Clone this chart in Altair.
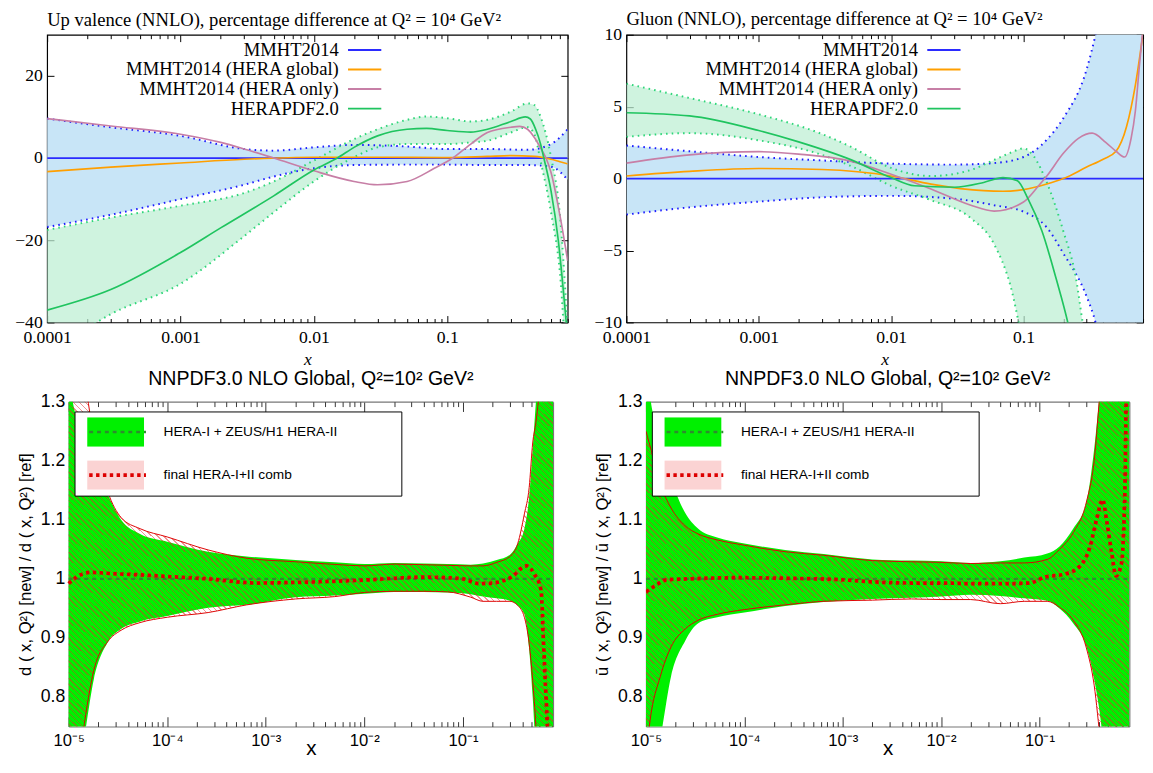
import altair as alt
import pandas as pd

# ======================= DATA =======================
# ---- Top-left: Up valence (NNLO), percentage difference at Q^2=10^4 GeV^2 ----
uv_mmht_x = [1e-4, 3e-4, 1e-3, 3e-3, 5e-3, 0.01, 0.02, 0.05, 0.1, 0.2, 0.4, 0.6, 0.8]
uv_mmht_up = [9.6, 7.5, 5.4, 2.2, 1.8, 2.6, 3.2, 2.8, 2.2, 2.2, 2.0, 3.4, 7.0]
uv_mmht_lo = [-16.8, -13.8, -10.0, -6.5, -4.5, -2.5, -1.7, -1.6, -1.6, -1.7, -1.7, -2.1, -5.3]
uv_hb_x = [1e-4, 3e-4, 1e-3, 3e-3, 5e-3, 0.01, 0.02, 0.03, 0.05, 0.07, 0.1, 0.15, 0.2, 0.3, 0.4, 0.45, 0.5, 0.6, 0.7, 0.78, 0.8]
uv_hb_up = [-17.5, -14.5, -11.6, -8.5, -5.7, -0.6, 4.6, 7.0, 9.3, 10.1, 9.7, 8.9, 9.3, 11.3, 13.3, 12.9, 10.1, 0.2, -14.0, -36.0, -42.0]
uv_hb_lo = [-48.0, -38.0, -30.6, -19.0, -13.2, -5.7, 0.2, 2.6, 3.4, 3.4, 3.4, 3.8, 4.2, 6.2, 7.5, 5.8, -0.6, -13.2, -28.0, -48.0, -50.0]
uv_mmht_cx = [1e-4, 0.8]
uv_mmht_cy = [0.0, 0.0]
uv_glob_x = [1e-4, 3e-4, 1e-3, 3e-3, 0.01, 0.03, 0.1, 0.2, 0.3, 0.45, 0.6, 0.7, 0.8]
uv_glob_y = [-3.3, -2.2, -1.2, -0.3, 0.2, 0.2, 0.1, 0.4, 0.6, 0.4, -0.3, -0.9, -1.4]
uv_only_x = [1e-4, 3e-4, 1e-3, 2e-3, 3e-3, 5e-3, 0.01, 0.02, 0.03, 0.05, 0.08, 0.11, 0.15, 0.2, 0.3, 0.35, 0.4, 0.45, 0.5, 0.55, 0.6, 0.7, 0.8]
uv_only_y = [9.6, 7.8, 5.8, 3.8, 2.2, 0.0, -3.1, -5.7, -6.5, -5.7, -2.5, 0.0, 3.4, 6.2, 7.5, 7.7, 7.0, 5.0, 2.5, 0.0, -3.5, -14.0, -25.0]
uv_hera_x = [1e-4, 3e-4, 1e-3, 2e-3, 5e-3, 0.01, 0.015, 0.02, 0.03, 0.05, 0.07, 0.1, 0.15, 0.2, 0.3, 0.385, 0.42, 0.46, 0.5, 0.53, 0.6, 0.68, 0.78, 0.8]
uv_hera_y = [-37.0, -32.0, -23.0, -17.0, -9.2, -2.9, 0.0, 2.6, 5.4, 7.0, 7.2, 6.7, 6.3, 7.0, 8.9, 10.0, 9.5, 7.0, 3.5, 0.0, -8.0, -20.0, -40.0, -44.0]

# ---- Top-right: Gluon (NNLO), percentage difference ----
gl_mmht_x = [1e-4, 3e-4, 1e-3, 3e-3, 0.01, 0.03, 0.06, 0.1, 0.15, 0.2, 0.3, 0.35, 0.4, 0.5, 0.65, 0.8]
gl_mmht_up = [2.3, 1.9, 1.5, 1.26, 1.04, 0.97, 1.08, 1.5, 2.7, 4.2, 7.6, 10.0, 12.5, 18.0, 25.0, 30.0]
gl_mmht_lo = [-2.5, -2.0, -1.6, -1.3, -1.2, -1.4, -1.85, -2.3, -3.4, -5.2, -8.2, -10.0, -12.5, -18.0, -25.0, -30.0]
gl_hb_x = [1e-4, 3e-4, 1e-3, 3e-3, 5e-3, 0.01, 0.02, 0.04, 0.06, 0.08, 0.1, 0.12, 0.15, 0.2, 0.25, 0.28, 0.3]
gl_hb_up = [6.6, 5.6, 4.47, 3.1, 2.2, 0.74, 0.18, 0.6, 1.3, 1.8, 2.1, 1.53, -0.27, -3.66, -7.0, -10.0, -11.5]
gl_hb_lo = [2.9, 3.16, 2.66, 1.65, 0.86, -0.5, -1.5, -2.75, -4.56, -7.5, -11.5, -14.0, -16.0, -18.0, -20.0, -20.0, -20.0]
gl_mmht_cx = [1e-4, 0.8]
gl_mmht_cy = [0.0, 0.0]
gl_glob_x = [1e-4, 3e-4, 1e-3, 3e-3, 0.01, 0.02, 0.05, 0.07, 0.1, 0.15, 0.2, 0.3, 0.4, 0.5, 0.6, 0.7, 0.8]
gl_glob_y = [0.18, 0.5, 0.7, 0.63, 0.18, -0.38, -0.84, -0.88, -0.77, -0.38, 0.0, 0.8, 1.35, 1.9, 3.6, 6.5, 10.1]
gl_only_x = [1e-4, 3e-4, 1e-3, 2e-3, 5e-3, 0.01, 0.02, 0.04, 0.06, 0.1, 0.13, 0.15, 0.2, 0.26, 0.33, 0.42, 0.5, 0.58, 0.65, 0.7, 0.75, 0.8]
gl_only_y = [1.08, 1.65, 1.87, 1.7, 1.2, 0.3, -0.72, -1.85, -2.26, -1.63, -0.5, 0.18, 1.76, 2.8, 3.16, 2.5, 1.9, 1.5, 2.8, 4.7, 7.8, 10.5]
gl_hera_x = [1e-4, 3e-4, 1e-3, 2e-3, 5e-3, 0.01, 0.015, 0.03, 0.05, 0.07, 0.09, 0.108, 0.138, 0.177, 0.216, 0.24]
gl_hera_y = [4.58, 4.36, 3.34, 2.55, 1.3, 0.07, -0.5, -0.6, -0.27, 0.07, -0.15, -1.4, -3.66, -7.0, -10.0, -12.0]

# ---- Bottom panels: NNPDF3.0 NLO Global, ratio new/ref ----
nn_x = [1e-5, 1.1e-5, 1.4e-5, 1.8e-5, 2.5e-5, 3.4e-5, 5.3e-5, 1e-4, 2.6e-4, 6.4e-4, 2e-3, 5e-3, 0.01, 0.02,
        0.04, 0.07, 0.12, 0.16, 0.22, 0.3, 0.36, 0.42, 0.47, 0.51, 0.55, 0.6, 0.7, 0.82]
# d-quark
d_green_up = [1.36, 1.30, 1.25, 1.19, 1.142, 1.10, 1.076, 1.063, 1.046, 1.038, 1.032, 1.028, 1.025, 1.027,
              1.026, 1.025, 1.024, 1.026, 1.032, 1.041, 1.06, 1.085, 1.14, 1.22, 1.30, 1.38, 1.40, 1.40]
d_green_lo = [0.60, 0.64, 0.72, 0.83, 0.893, 0.915, 0.928, 0.937, 0.951, 0.956, 0.969, 0.972, 0.975, 0.978,
              0.978, 0.977, 0.974, 0.970, 0.967, 0.963, 0.955, 0.94, 0.88, 0.80, 0.70, 0.62, 0.60, 0.60]
d_red_up = [1.40, 1.40, 1.35, 1.24, 1.147, 1.104, 1.085, 1.071, 1.049, 1.035, 1.029, 1.0245, 1.022, 1.025,
            1.024, 1.023, 1.022, 1.022, 1.028, 1.038, 1.06, 1.11, 1.155, 1.23, 1.265, 1.32, 1.40, 1.40]
d_red_lo = [0.60, 0.60, 0.74, 0.845, 0.894, 0.913, 0.926, 0.935, 0.943, 0.956, 0.966, 0.97, 0.977, 0.979,
            0.979, 0.978, 0.969, 0.962, 0.962, 0.962, 0.955, 0.935, 0.89, 0.828, 0.75, 0.62, 0.60, 0.60]
d_cen_x = [1e-5, 1.2e-5, 1.68e-5, 2.7e-5, 5e-5, 1e-4, 2.6e-4, 8e-4, 2e-3, 5e-3, 0.01, 0.02, 0.04, 0.07, 0.1,
           0.146, 0.2, 0.31, 0.44, 0.53, 0.62, 0.66, 0.72, 0.8]
d_cen_y = [0.992, 1.003, 1.011, 1.009, 1.007, 1.004, 1.0, 0.993, 0.994, 0.996, 0.998, 1.001, 1.003, 1.002, 1.0,
           0.992, 0.993, 1.003, 1.022, 1.008, 0.981, 0.883, 0.75, 0.6]
# u-bar
u_green_up = [1.40, 1.31, 1.24, 1.17, 1.112, 1.085, 1.07, 1.06, 1.049, 1.042, 1.033, 1.031, 1.03, 1.027,
              1.03, 1.036, 1.043, 1.055, 1.085, 1.13, 1.22, 1.33, 1.40, 1.40, 1.40, 1.40, 1.40, 1.40]
u_green_lo = [0.60, 0.65, 0.73, 0.835, 0.895, 0.925, 0.935, 0.943, 0.954, 0.961, 0.966, 0.968, 0.97, 0.973,
              0.971, 0.967, 0.963, 0.95, 0.925, 0.885, 0.83, 0.76, 0.68, 0.60, 0.60, 0.60, 0.60, 0.60]
u_red_up = [1.25, 1.225, 1.16, 1.12, 1.09, 1.076, 1.066, 1.057, 1.046, 1.04, 1.031, 1.029, 1.028, 1.026,
            1.027, 1.027, 1.033, 1.05, 1.078, 1.13, 1.20, 1.33, 1.40, 1.40, 1.40, 1.40, 1.40, 1.40]
u_red_lo = [0.70, 0.76, 0.835, 0.885, 0.915, 0.93, 0.94, 0.948, 0.956, 0.962, 0.964, 0.966, 0.965, 0.965,
            0.958, 0.962, 0.962, 0.952, 0.93, 0.883, 0.82, 0.72, 0.65, 0.60, 0.60, 0.60, 0.60, 0.60]
u_cen_x = [1e-5, 1.26e-5, 1.58e-5, 2.7e-5, 8.5e-5, 2.7e-4, 8.4e-4, 2e-3, 5e-3, 0.01, 0.02, 0.05, 0.08, 0.113,
           0.18, 0.26, 0.33, 0.38, 0.44, 0.48, 0.54, 0.6, 0.68, 0.74, 0.76, 0.8]
u_cen_y = [0.978, 0.989, 0.998, 1.0, 1.002, 1.001, 0.999, 0.995, 0.993, 0.993, 0.992, 0.992, 0.993, 1.003,
           1.008, 1.022, 1.057, 1.10, 1.134, 1.10, 1.046, 1.005, 1.025, 1.155, 1.3, 1.45]
ref_x = [1e-5, 0.82]
ref_y = [1.0, 1.0]

TOP_NAMES = ["MMHT2014", "MMHT2014 (HERA global)", "MMHT2014 (HERA only)", "HERAPDF2.0"]
BOT_NAMES = ["HERA-I + ZEUS/H1 HERA-II", "final HERA-I+II comb"]

# ======================= STYLE =======================
SERIF = "Liberation Serif"
SANS = "Liberation Sans"
C_BLUE, C_ORANGE, C_MAUVE, C_GREEN = "#2b2bff", "#ff9f00", "#c77fa6", "#1fc45f"
BAND_BLUE, BAND_GREEN = "#c8e5f7", "#bdefd3"
DOT_BLUE, DOT_GREEN = "#1c1cff", "#2fd679"
NN_GREEN, NN_DKGREEN, NN_RED, FRAME = "#00f000", "#2e8b2e", "#dd0000", "#777777"
INDEP = dict(color="independent", fill="independent", stroke="independent",
             strokeDash="independent", strokeWidth="independent")


def tick_layers(xs, ys, W, H, xmaj, xmin, ymaj, ymin, color, majlen, minlen, mid, frame=False, right_ext=0):
    dummy = pd.DataFrame({"x": [mid[0]], "y": [mid[1]]})

    def ax(orient, values, size, off, dom=False):
        if not values:
            return None
        return alt.Axis(orient=orient, offset=off, values=values, tickSize=size, tickColor=color,
                        tickWidth=1, labels=False, domain=dom, domainColor=FRAME, domainWidth=1.2,
                        grid=False, title=None, ticks=True)

    specs = [("top", "right", xmaj, ymaj, majlen, False), ("bottom", "left", xmaj, ymaj, majlen, frame),
             ("top", "right", xmin, ymin, minlen, False), ("bottom", "left", xmin, ymin, minlen, False)]
    out = []
    for xo, yo, xv, yv, size, dom in specs:
        out.append(alt.Chart(dummy).mark_point(opacity=0).encode(
            x=alt.X("x:Q", scale=xs, axis=ax(xo, xv, size, -H, dom)),
            y=alt.Y("y:Q", scale=ys, axis=ax(yo, yv, size, -W))))
    if frame:
        out.append(alt.Chart(dummy).mark_point(opacity=0).encode(
            x=alt.X("x:Q", scale=xs, axis=None),
            y=alt.Y("y:Q", scale=ys, axis=alt.Axis(orient="right", labels=False, ticks=False, domain=True,
                                                   domainColor=FRAME, domainWidth=1.2, grid=False,
                                                   title=None, minExtent=right_ext, maxExtent=right_ext))))
    return out


def top_panel(title, ydom, yticks, W, H, mmht, hband, curves, title_dy=0):
    xs = alt.Scale(type="log", domain=[1e-4, 0.8], nice=False)
    ys = alt.Scale(domain=ydom, nice=False, zero=False)
    x_main = alt.Axis(values=[1e-4, 1e-3, 1e-2, 1e-1], format="~g", labelFont=SERIF, labelFontSize=18,
                      labelColor="black", ticks=False, domain=False, grid=False, labelPadding=7,
                      labelFlush=False, labelOverlap=False, title="x", titleFont=SERIF,
                      titleFontStyle="italic", titleFontWeight="normal", titleFontSize=18,
                      titleColor="black", titlePadding=4)
    y_main = alt.Axis(values=yticks, labelFont=SERIF, labelFontSize=18, labelColor="black", ticks=False,
                      domain=False, grid=False, labelPadding=5, labelFlush=False, labelOverlap=False,
                      title=None)
    bdf = pd.DataFrame({"x": mmht[0], "up": mmht[1], "lo": mmht[2]})
    gdf = pd.DataFrame({"x": hband[0], "up": hband[1], "lo": hband[2]})
    X = lambda axis=None: alt.X("x:Q", scale=xs, axis=axis)
    layers = [
        alt.Chart(bdf).mark_area(color=BAND_BLUE, interpolate="monotone", clip=True).encode(
            x=X(x_main), y=alt.Y("lo:Q", scale=ys, axis=y_main), y2="up:Q"),
        alt.Chart(gdf).mark_area(color=BAND_GREEN, opacity=0.72, interpolate="monotone", clip=True).encode(
            x=X(), y=alt.Y("lo:Q", scale=ys, axis=None), y2="up:Q"),
    ]
    for df, col in ((bdf, DOT_BLUE), (gdf, DOT_GREEN)):
        for f in ("up", "lo"):
            layers.append(alt.Chart(df).mark_line(color=col, strokeWidth=2, strokeDash=[1.6, 4.2],
                                                  interpolate="monotone", clip=True).encode(
                x=X(), y=alt.Y(f + ":Q", scale=ys, axis=None)))
    ldf = pd.concat([pd.DataFrame({"x": cx, "y": cy, "series": nm}) for nm, cx, cy in curves],
                    ignore_index=True)
    # legend: labels right-aligned, short line sample drawn to the right of each label
    layers.append(alt.Chart(ldf).mark_line(strokeWidth=1.7, interpolate="monotone", clip=True).encode(
        x=X(), y=alt.Y("y:Q", scale=ys, axis=None),
        color=alt.Color("series:N", scale=alt.Scale(domain=TOP_NAMES,
                                                     range=[C_BLUE, C_ORANGE, C_MAUVE, C_GREEN]),
                        legend=alt.Legend(orient="none", legendX=279, legendY=6, title=None,
                                          symbolType="M3.8,0H10.6", symbolSize=100, symbolStrokeWidth=2,
                                          symbolOffset=0, rowPadding=0, padding=0,
                                          labelAlign="right", labelOffset=0, labelFont=SERIF,
                                          labelFontSize=19, labelColor="black", labelLimit=500))))
    xmin = [k * 10.0 ** e for e in range(-4, 0) for k in range(2, 10) if k * 10.0 ** e <= 0.8]
    layers += tick_layers(xs, ys, W, H, [1e-4, 1e-3, 1e-2, 1e-1], xmin, yticks, None, "black", 7, 4,
                          (0.01, (ydom[0] + ydom[1]) / 2))
    return alt.layer(*layers).resolve_axis(x="independent", y="independent").properties(
        width=W, height=H,
        title=alt.TitleParams(title, font=SERIF, fontSize=19, fontWeight="normal", color="black",
                              anchor="start", frame="group", offset=4, dy=title_dy),
        view=alt.ViewBackground(stroke="black", strokeWidth=1.2))


def hatch_gradient(n=165):
    clear = "rgba(255,255,255,0)"
    line = "rgba(228,40,40,0.5)"
    stops = []
    for k in range(n):
        a, b, c = k / n, (k + 0.76) / n, (k + 1) / n
        stops += [alt.GradientStop(color=clear, offset=round(a, 6)),
                  alt.GradientStop(color=clear, offset=round(b, 6)),
                  alt.GradientStop(color=line, offset=round(b, 6)),
                  alt.GradientStop(color=line, offset=round(min(c, 1.0), 6))]
    return alt.LinearGradient(gradient="linear", stops=stops, x1=0, y1=1, x2=1, y2=0)


SUP = "datum.value < 5e-5 ? '10⁻⁵' : datum.value < 5e-4 ? '10⁻⁴' : datum.value < 5e-3 ? '10⁻³' : datum.value < 5e-2 ? '10⁻²' : '10⁻¹'"


def bottom_panel(ytitle, xtitle, W, H, g_up, g_lo, r_up, r_lo, cx, cy, lpad=0, right_ext=0):
    xs = alt.Scale(type="log", domain=[1e-5, 0.82], nice=False, range=[lpad, W + lpad])
    ys = alt.Scale(domain=[0.75, 1.3], nice=False, zero=False)
    x_main = alt.Axis(values=[1e-5, 1e-4, 1e-3, 1e-2, 1e-1], labelExpr=SUP, labelFont=SANS,
                      labelFontSize=17, labelColor="black", ticks=False, domain=True, domainColor=FRAME,
                      domainWidth=1.2, grid=False, labelPadding=6, labelFlush=False, labelOverlap=False,
                      title=xtitle, titleFont=SANS, titleFontWeight="normal", titleFontSize=21,
                      titleColor="black", titlePadding=-10)
    y_main = alt.Axis(values=[0.8, 0.9, 1.0, 1.1, 1.2, 1.3], format="~g", labelFont=SANS, labelFontSize=18,
                      labelColor="black", ticks=False, domain=True, domainColor=FRAME, domainWidth=1.2,
                      grid=False, labelPadding=4, labelFlush=False, labelOverlap=False, title=ytitle,
                      titleFont=SANS, titleFontWeight="normal", titleFontSize=17, titleColor="black",
                      titlePadding=6, offset=-lpad)
    X = lambda axis=None: alt.X("x:Q", scale=xs, axis=axis)
    gdf = pd.DataFrame({"x": nn_x, "up": g_up, "lo": g_lo})
    rdf = pd.DataFrame({"x": nn_x, "up": r_up, "lo": r_lo})
    cdf = pd.concat([pd.DataFrame({"x": ref_x, "y": ref_y, "k": "g"}),
                     pd.DataFrame({"x": cx, "y": cy, "k": "r"})], ignore_index=True)
    leg_df = pd.DataFrame({"x": [0.001, 0.001], "y": [1.0, 1.0], "name": BOT_NAMES})
    layers = [
        alt.Chart(gdf).mark_area(color=NN_GREEN, interpolate="monotone", clip=True).encode(
            x=X(x_main), y=alt.Y("lo:Q", scale=ys, axis=y_main), y2="up:Q"),
        alt.Chart(rdf).mark_area(color=hatch_gradient(), interpolate="monotone", clip=True).encode(
            x=X(), y=alt.Y("lo:Q", scale=ys, axis=None), y2="up:Q"),
    ]
    for f in ("up", "lo"):
        layers.append(alt.Chart(rdf).mark_line(color=NN_RED, strokeWidth=1, interpolate="monotone",
                                               clip=True).encode(
            x=X(), y=alt.Y(f + ":Q", scale=ys, axis=None)))
    # legend (fill swatches with white framed box); invisible title on the right widens the box
    layers.append(alt.Chart(leg_df).mark_point(filled=True, opacity=0).encode(
        x=X(), y=alt.Y("y:Q", scale=ys, axis=None),
        fill=alt.Fill("name:N", scale=alt.Scale(domain=BOT_NAMES, range=[NN_GREEN, "#fbd3d3"]),
                      legend=alt.Legend(orient="none", legendX=6 + lpad, legendY=10, title="MMMMM",
                                        titleOrient="right", titleOpacity=0, titleFontSize=14,
                                        titlePadding=0,
                                        symbolType="M-1,-0.52H1V0.52H-1Z", symbolSize=3364,
                                        symbolStrokeWidth=0, symbolOpacity=1, symbolOffset=7,
                                        clipHeight=30, rowPadding=14, padding=6, fillColor="white",
                                        strokeColor="black", labelFont=SANS, labelFontSize=14,
                                        labelColor="black", labelOffset=20, labelLimit=600))))
    # central lines + dashed legend symbols
    layers.append(alt.Chart(cdf).mark_line(interpolate="monotone", clip=True).encode(
        x=X(), y=alt.Y("y:Q", scale=ys, axis=None),
        stroke=alt.Stroke("k:N", scale=alt.Scale(domain=["g", "r"], range=[NN_DKGREEN, NN_RED]),
                          legend=alt.Legend(orient="none", legendX=6 + lpad, legendY=10, title=None,
                                            symbolType="stroke", symbolSize=3364, symbolStrokeWidth=2.5,
                                            symbolDash=[4, 3], symbolOffset=7, symbolOpacity=1,
                                            clipHeight=30, rowPadding=14, padding=6, labelOpacity=0,
                                            labelFontSize=14, labelOffset=20)),
        strokeDash=alt.StrokeDash("k:N", scale=alt.Scale(domain=["g", "r"], range=[[4, 4], [3.5, 3.5]]),
                                  legend=None),
        strokeWidth=alt.StrokeWidth("k:N", scale=alt.Scale(domain=["g", "r"], range=[2.5, 3.8]),
                                    legend=None)))
    xmin = [k * 10.0 ** e for e in range(-5, 0) for k in range(2, 10) if k * 10.0 ** e <= 0.82]
    layers += tick_layers(xs, ys, W + lpad, H, [1e-5, 1e-4, 1e-3, 1e-2, 1e-1], xmin, None, None, "#333333",
                          10, 5, (0.001, 1.0), frame=True, right_ext=right_ext)
    return alt.layer(*layers).resolve_axis(x="independent", y="independent").properties(
        width=W + lpad, height=H,
        title=alt.TitleParams("NNPDF3.0 NLO Global, Q²=10² GeV²", font=SANS, fontSize=20,
                              fontWeight="normal", color="black", anchor="middle", frame="group",
                              offset=4, dx=lpad / 2),
        view=alt.ViewBackground(stroke=None))


tl = top_panel("Up valence (NNLO), percentage difference at Q² = 10⁴ GeV²", [-40, 30], [-40, -20, 0, 20],
               532, 294, (uv_mmht_x, uv_mmht_up, uv_mmht_lo), (uv_hb_x, uv_hb_up, uv_hb_lo),
               [(TOP_NAMES[0], uv_mmht_cx, uv_mmht_cy), (TOP_NAMES[1], uv_glob_x, uv_glob_y),
                (TOP_NAMES[2], uv_only_x, uv_only_y), (TOP_NAMES[3], uv_hera_x, uv_hera_y)])
tr = top_panel("Gluon (NNLO), percentage difference at Q² = 10⁴ GeV²", [-10, 10], [-10, -5, 0, 5, 10],
               528, 294, (gl_mmht_x, gl_mmht_up, gl_mmht_lo), (gl_hb_x, gl_hb_up, gl_hb_lo),
               [(TOP_NAMES[0], gl_mmht_cx, gl_mmht_cy), (TOP_NAMES[1], gl_glob_x, gl_glob_y),
                (TOP_NAMES[2], gl_only_x, gl_only_y), (TOP_NAMES[3], gl_hera_x, gl_hera_y)],
               title_dy=7)
bl = bottom_panel("d ( x, Q²) [new] / d ( x, Q²) [ref]", "x", 495, 332,
                  d_green_up, d_green_lo, d_red_up, d_red_lo, d_cen_x, d_cen_y, lpad=22, right_ext=27)
br = bottom_panel("ū ( x, Q²) [new] / ū ( x, Q²) [ref]", "x", 494, 332,
                  u_green_up, u_green_lo, u_red_up, u_red_lo, u_cen_x, u_cen_y, lpad=0, right_ext=0)

chart = alt.concat(tl, tr, bl, br, columns=2, align="none",
                   spacing={"row": 0, "column": 14}).resolve_scale(**INDEP).resolve_legend(**INDEP).properties(
    padding={"left": 6, "top": -7, "right": 0, "bottom": 0}
).configure(background="white")

chart.save("out.html", embed_options={"renderer": "svg", "actions": False})
